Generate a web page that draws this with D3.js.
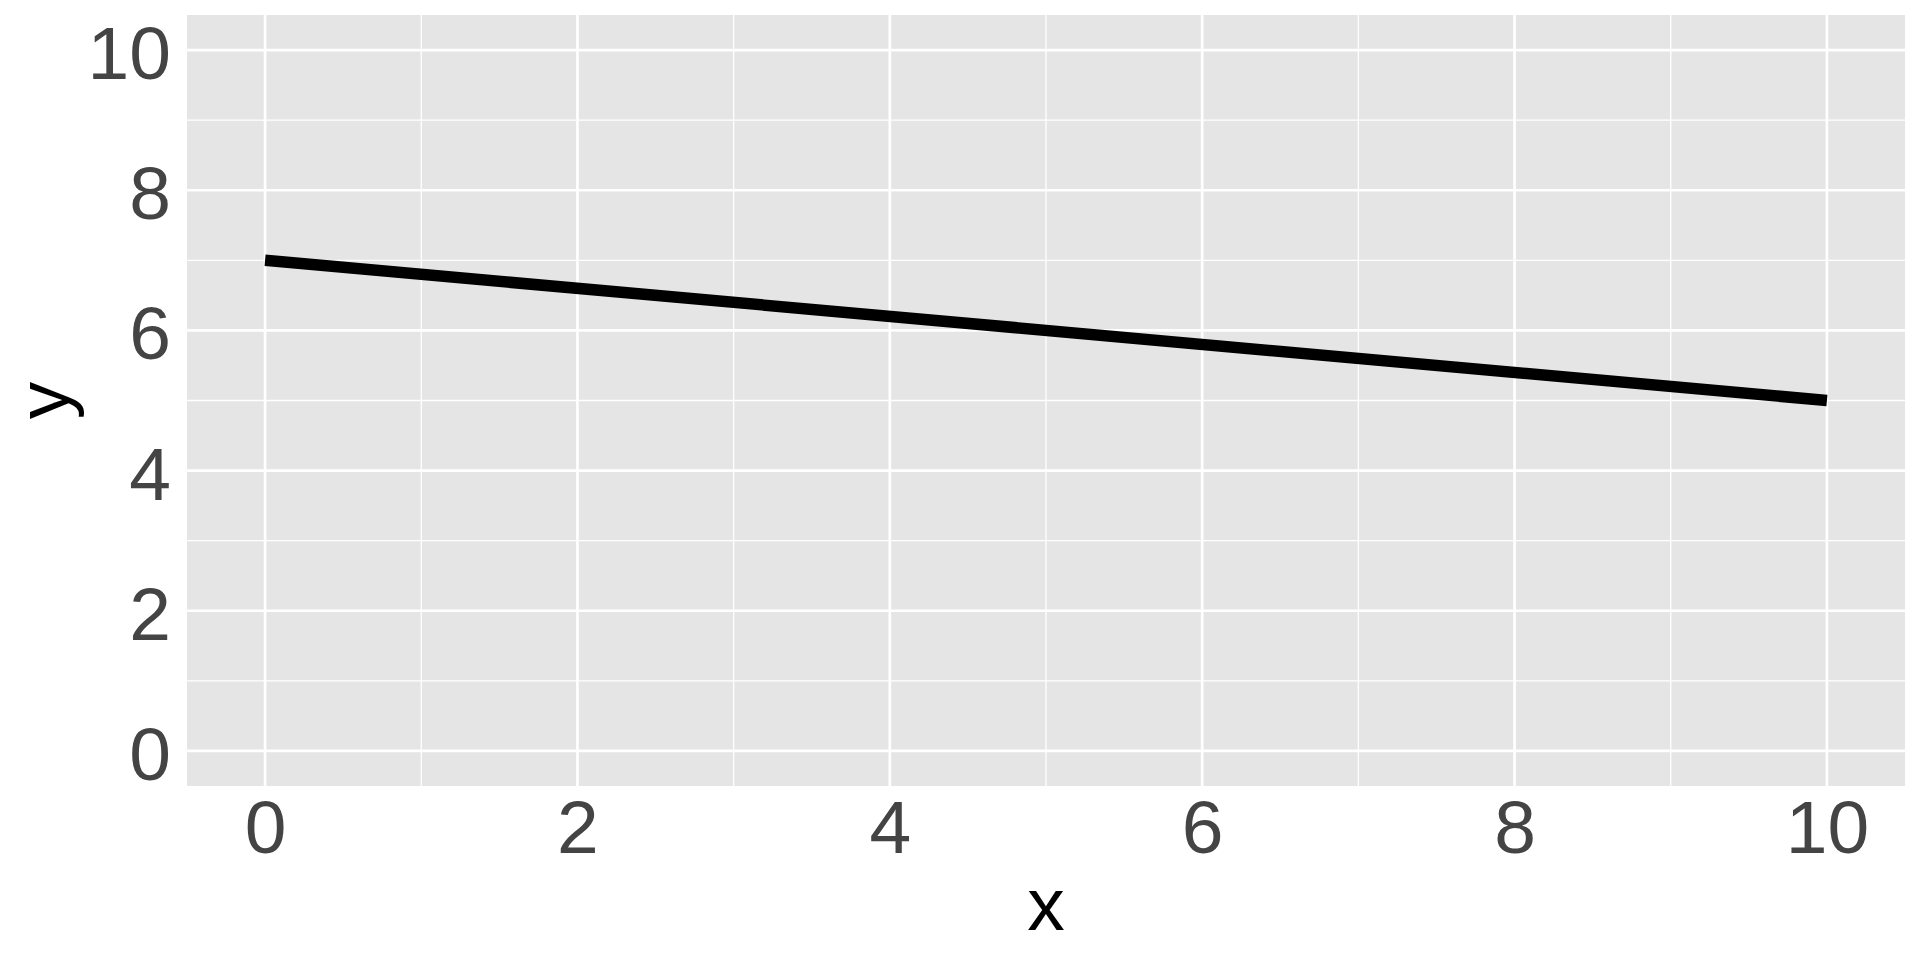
<!DOCTYPE html>
<html>
<head>
<meta charset="utf-8">
<script src="https://cdn.jsdelivr.net/npm/d3@7"></script>
<style>
  html, body { margin: 0; padding: 0; background: #fff; }
  svg { display: block; font-family: "Liberation Sans", Arial, sans-serif; }
  .tick text { fill: #444; font-size: 75px; }
</style>
</head>
<body>
<svg id="chart" width="1920" height="960"></svg>
<script>
// data
const xs = [0, 10];
const ys = [7, 5];
const xTicks = [0, 2, 4, 6, 8, 10];
const yTicks = [0, 2, 4, 6, 8, 10];
const xMinor = [1, 3, 5, 7, 9];
const yMinor = [1, 3, 5, 7, 9];

const W = 1920, H = 960;
const m = { top: 15, right: 15, bottom: 174, left: 187 };
const iw = W - m.left - m.right, ih = H - m.top - m.bottom;

const svg = d3.select('#chart');
const g = svg.append('g').attr('transform', `translate(${m.left},${m.top})`);

const x = d3.scaleLinear().domain([-0.5, 10.5]).range([0, iw]);
const y = d3.scaleLinear().domain([-0.5, 10.5]).range([ih, 0]);

g.append('rect').attr('width', iw).attr('height', ih).attr('fill', '#e5e5e5');

// minor grid
g.selectAll('.hmin').data(yMinor).join('line')
  .attr('x1', 0).attr('x2', iw).attr('y1', d => y(d)).attr('y2', d => y(d))
  .attr('stroke', '#fff').attr('stroke-width', 1.3);
g.selectAll('.vmin').data(xMinor).join('line')
  .attr('y1', 0).attr('y2', ih).attr('x1', d => x(d)).attr('x2', d => x(d))
  .attr('stroke', '#fff').attr('stroke-width', 1.3);

// major grid
g.selectAll('.hmaj').data(yTicks).join('line')
  .attr('x1', 0).attr('x2', iw).attr('y1', d => y(d)).attr('y2', d => y(d))
  .attr('stroke', '#fff').attr('stroke-width', 2.7);
g.selectAll('.vmaj').data(xTicks).join('line')
  .attr('y1', 0).attr('y2', ih).attr('x1', d => x(d)).attr('x2', d => x(d))
  .attr('stroke', '#fff').attr('stroke-width', 2.7);

// the line
const line = d3.line().x(d => x(d[0])).y(d => y(d[1]));
g.append('path')
  .datum(xs.map((v, i) => [v, ys[i]]))
  .attr('d', line)
  .attr('fill', 'none')
  .attr('stroke', '#000')
  .attr('stroke-width', 11.5)
  .attr('stroke-linecap', 'butt');

// axes (no ticks, no domain)
const xAxis = g.append('g').attr('transform', `translate(0,${ih})`)
  .call(d3.axisBottom(x).tickValues(xTicks).tickSize(0).tickPadding(14));
xAxis.select('.domain').remove();

const yAxis = g.append('g')
  .call(d3.axisLeft(y).tickValues(yTicks).tickSize(0).tickPadding(16));
yAxis.select('.domain').remove();
yAxis.selectAll('text').attr('dy', '0.38em');
svg.selectAll('.tick text').attr('font-family', null).attr('font-size', null);

// axis titles
svg.append('text')
  .attr('x', m.left + iw / 2).attr('y', 930)
  .attr('text-anchor', 'middle')
  .attr('font-size', 75).attr('fill', '#000')
  .text('x');

svg.append('text')
  .attr('transform', `translate(69,${m.top + ih / 2}) rotate(-90)`)
  .attr('text-anchor', 'middle')
  .attr('font-size', 75).attr('fill', '#000')
  .text('y');
</script>
</body>
</html>
